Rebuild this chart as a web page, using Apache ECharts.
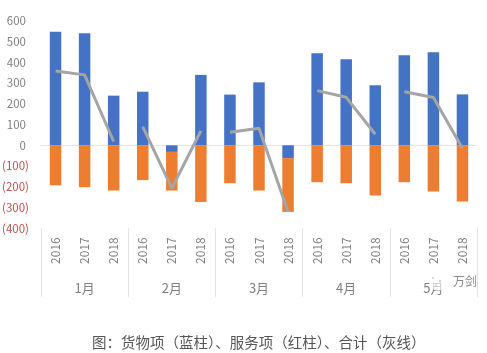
<!DOCTYPE html>
<html>
<head>
<meta charset="utf-8">
<style>
  html, body { margin: 0; padding: 0; background: #fff; }
  #chart { width: 487px; height: 353px; }
</style>
<script src="https://cdn.jsdelivr.net/npm/echarts@6/dist/echarts.min.js"></script>
</head>
<body>
<div id="chart"></div>
<script>
const years = ["2016", "2017", "2018", "2016", "2017", "2018", "2016", "2017", "2018", "2016", "2017", "2018", "2016", "2017", "2018"];
const months = ["1月", "2月", "3月", "4月", "5月"];
const goods = [547, 539, 239, 258, -32, 339, 244, 303, -62, 443, 414, 289, 433, 448, 245];
const services = [-193, -202, -218, -168, -186, -273, -183, -218, -259, -178, -183, -242, -178, -223, -271];
const totals = [358, 339, 18, 90, -207, 69, 63, 82, -320, 263, 231, 53, 258, 230, -14];

const chart = echarts.init(document.getElementById("chart"));
const textColor = "#7f7f7f";
const font = '"Noto Sans CJK SC", "Noto Sans", sans-serif';

// one line per month, so the grey line breaks between groups
const totalSeries = months.map((m, i) => ({
  name: "合计" + m,
  type: "line",
  data: totals.map((v, j) => (Math.floor(j / 3) === i ? v : null)),
  symbol: "none",
  z: 5,
  lineStyle: { color: "#a5a5a5", width: 3 },
}));

chart.setOption({
  animation: false,
  title: {
    text: "图：货物项（蓝柱）、服务项（红柱）、合计（灰线）",
    left: 87,
    top: 330,
    textStyle: { fontFamily: font, fontSize: 14.5, fontWeight: "normal", color: "#555" },
  },
  grid: { left: 41, right: 10, top: 20.7, height: 207.6, outerBoundsMode: "none" },
  xAxis: [
    {
      type: "category",
      data: years,
      axisLine: { onZero: true, lineStyle: { color: "#e6e6e6", width: 1 } },
      axisTick: { show: false },
      axisLabel: { show: false },
    },
    {
      type: "category",
      position: "bottom",
      data: years,
      axisLine: { show: false, onZero: false },
      axisTick: { show: false },
      axisLabel: { rotate: 90, margin: 9, color: textColor, fontSize: 12, fontFamily: font, interval: 0 },
    },
    {
      type: "category",
      position: "bottom",
      data: months,
      axisLine: { show: false, onZero: false },
      axisTick: { show: true, length: 69, lineStyle: { color: "#e3e3e3", width: 1 } },
      axisLabel: { margin: 53, color: textColor, fontSize: 13, fontFamily: font, interval: 0 },
    },
  ],
  yAxis: {
    type: "value",
    min: -400,
    max: 600,
    interval: 100,
    axisLine: { show: false },
    axisTick: { show: false },
    splitLine: { show: false },
    axisLabel: {
      margin: 12,
      formatter: (v) => (v < 0 ? "{neg|(" + Math.abs(v) + ")}" : "{pos|" + v + "}"),
      rich: {
        neg: { color: "#c0504d", fontSize: 11.5, fontFamily: font },
        pos: { color: textColor, fontSize: 11.5, fontFamily: font, padding: [0, 3, 0, 0] },
      },
    },
  },
  series: [
    { name: "货物项", type: "bar", stack: "total", data: goods, barWidth: 11.5, itemStyle: { color: "#4472c4" } },
    { name: "服务项", type: "bar", stack: "total", data: services, barWidth: 11.5, itemStyle: { color: "#ed7d31" } },
    ...totalSeries,
  ],
  graphic: [
    {
      type: "text",
      left: 453,
      top: 275,
      style: { text: "万剑", fill: "#8a8a8a", font: '12px "Noto Sans CJK SC"' },
    },
    // faint watermark logo over the 5月 label
    { type: "circle", shape: { cx: 438, cy: 283, r: 8 }, style: { fill: "rgba(255,255,255,0.6)" }, z: 10 },
    { type: "circle", shape: { cx: 433, cy: 278, r: 1 }, style: { fill: "#c8c8c8" }, z: 11 },
    { type: "circle", shape: { cx: 440, cy: 281, r: 1.2 }, style: { fill: "#d0d0d0" }, z: 11 },
    { type: "circle", shape: { cx: 436, cy: 285, r: 1 }, style: { fill: "#d8d8d8" }, z: 11 },
  ],
});

window.addEventListener("resize", () => chart.resize());
</script>
</body>
</html>
